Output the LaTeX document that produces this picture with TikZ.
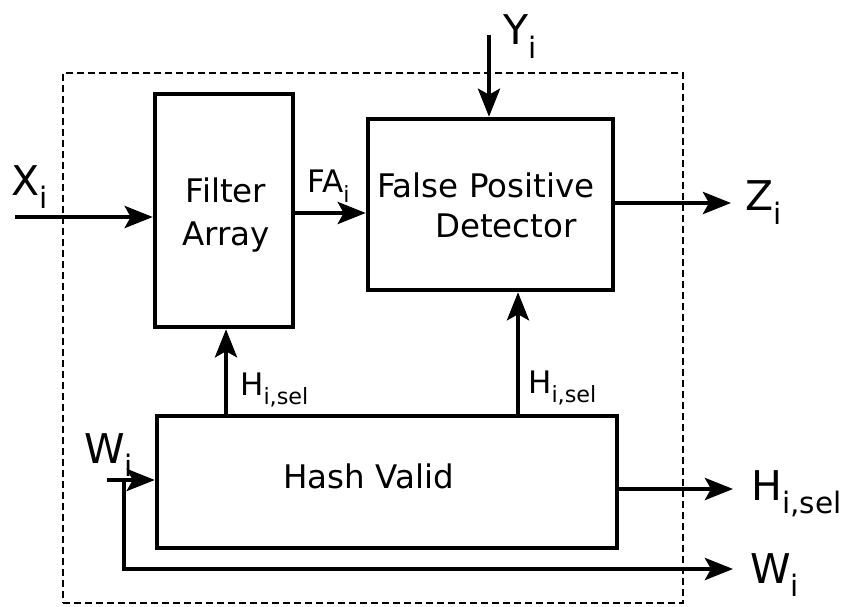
\documentclass[tikz,border=0pt]{standalone}
\usepackage{fontspec}
\setmainfont{DejaVu Sans}
\usetikzlibrary{arrows.meta}
\newcommand\lowsub[1]{\raisebox{-0.32em}{\scalebox{0.72}{#1}}}
\begin{document}
\begin{tikzpicture}[x=1pt,y=-1pt,
  box/.style={draw, line width=4.5pt, rectangle, inner sep=0pt},
  frame/.style={draw, line width=1.6pt, dash pattern=on 7pt off 4pt, rectangle, inner sep=0pt},
  arr/.style={line width=4.5pt, -{Stealth[length=28pt,width=22pt,inset=6pt]}},
  big/.style={font=\fontsize{41}{48}\selectfont, inner sep=0pt, anchor=base west},
  small/.style={font=\fontsize{31}{37}\selectfont, inner sep=0pt, anchor=base west},
  boxtext/.style={font=\fontsize{32.5}{43}\selectfont, inner sep=0pt}
]
\useasboundingbox (0,0) rectangle (849,607);
\node[frame, minimum width=620, minimum height=530] (frame) at (373,338) {};
\node[box, minimum width=138, minimum height=233] (fa) at (224,210.5) {};
\node[box, minimum width=245, minimum height=171] (fpd) at (490.5,204.5) {};
\node[box, minimum width=460, minimum height=132] (hv) at (387,482) {};
% box texts
\node[boxtext, anchor=base] (fatext1) at (226,202) {Filter};
\node[boxtext, anchor=base] (fatext2) at (226,245) {Array};
\node[boxtext, anchor=base west] (fpdtext1) at (377,197) {False Positive};
\node[boxtext, anchor=base west] (fpdtext2) at (435,237) {Detector};
\node[boxtext, anchor=base west] (hvtext) at (283,488) {Hash Valid};
% coordinates
\coordinate (xin) at (15,217);
\coordinate (fay) at (0,213);
\coordinate (yin) at (489,35);
\coordinate (zout) at (731,203);
\coordinate (h1) at (226,0);
\coordinate (h2) at (518,0);
\coordinate (win) at (107,480);
\coordinate (wtap) at (124,480);
\coordinate (wout) at (733,569);
\coordinate (hout) at (733,489);
% connectors
\draw[arr] (xin) -- (xin -| fa.west);
\draw[arr] (fa.east |- fay) -- (fpd.west |- fay);
\draw[arr] (yin) -- (yin |- fpd.north);
\draw[arr] (fpd.east |- zout) -- (zout);
\draw[arr] (h1 |- hv.north) -- (h1 |- fa.south);
\draw[arr] (h2 |- hv.north) -- (h2 |- fpd.south);
\draw[arr] (win) -- (win -| hv.west);
\draw[arr] (wtap) |- (wout);
\draw[arr] (hv.east |- hout) -- (hout);
% labels
\node[big] (lx) at (11,195) {X\lowsub{i}};
\node[big] (ly) at (503,45) {Y\lowsub{i}};
\node[big] (lz) at (745,211) {Z\lowsub{i}};
\node[big] (lh) at (751,500) {H\lowsub{i,sel}};
\node[big] (lw) at (750,583) {W\lowsub{i}};
\node[big] (lwin) at (84,463) {W\lowsub{i}};
\node[small] (lfa) at (307,193) {FA\lowsub{i}};
\node[small] (lh1) at (240,395) {H\lowsub{i,sel}};
\node[small] (lh2) at (528,393) {H\lowsub{i,sel}};
\end{tikzpicture}
\end{document}
